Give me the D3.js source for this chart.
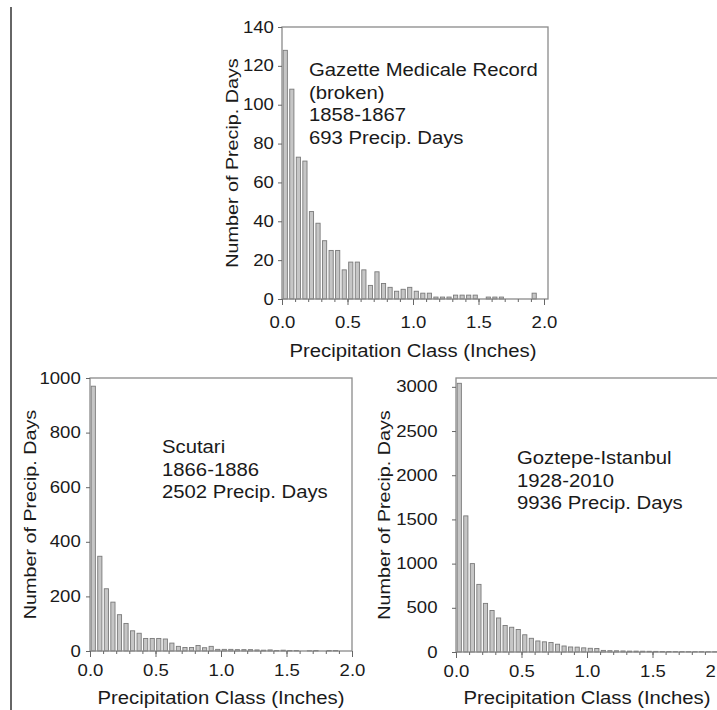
<!DOCTYPE html>
<html>
<head>
<meta charset="utf-8">
<script src="https://cdn.jsdelivr.net/npm/d3@7"></script>
<style>
  html, body { margin: 0; padding: 0; background: #fff; }
  svg { display: block; }
  text { font-family: "Liberation Sans", Arial, sans-serif; fill: #1a1a1a; }
</style>
</head>
<body>
<svg id="chart"></svg>
<script>
// precipitation classes (inches), 0.05 wide
const classStart = [0.00, 0.05, 0.10, 0.15, 0.20, 0.25, 0.30, 0.35, 0.40, 0.45,
                    0.50, 0.55, 0.60, 0.65, 0.70, 0.75, 0.80, 0.85, 0.90, 0.95,
                    1.00, 1.05, 1.10, 1.15, 1.20, 1.25, 1.30, 1.35, 1.40, 1.45,
                    1.50, 1.55, 1.60, 1.65, 1.70, 1.75, 1.80, 1.85, 1.90, 1.95];

const gazetteDays = [128, 108, 73, 71, 45, 39, 30, 25, 25, 15, 19, 19, 15, 7, 14, 8, 6, 4, 5, 6,
                     4, 3, 3, 1, 1, 1, 2, 2, 2, 2, 0, 1, 1, 1, 0, 0, 0, 0, 3, 0];
const scutariDays = [970, 347, 228, 179, 133, 101, 74, 65, 46, 46, 46, 44, 29, 17, 13, 13, 20, 12, 17, 6,
                     6, 6, 5, 5, 5, 4, 3, 4, 2, 3, 2, 2, 0, 1, 2, 0, 2, 2, 0, 0];
const goztepeDays = [3040, 1540, 1000, 765, 550, 470, 385, 300, 280, 255, 195, 155, 125, 115, 108, 88, 68, 57, 55, 47,
                     42, 40, 18, 15, 14, 12, 10, 10, 9, 8, 7, 6, 6, 5, 5, 4, 4, 4, 3, 3];

const gazetteNote = ["Gazette Medicale Record", "(broken)", "1858-1867", "693 Precip. Days"];
const scutariNote = ["Scutari", "1866-1886", "2502 Precip. Days"];
const goztepeNote = ["Goztepe-Istanbul", "1928-2010", "9936 Precip. Days"];

const gazetteTicks = [0, 20, 40, 60, 80, 100, 120, 140];
const scutariTicks = [0, 200, 400, 600, 800, 1000];
const goztepeTicks = [0, 500, 1000, 1500, 2000, 2500, 3000];

const xMajor = [0, 0.5, 1.0, 1.5, 2.0];
const xMinor = [0, 0.1, 0.2, 0.3, 0.4, 0.5, 0.6, 0.7, 0.8, 0.9, 1.0,
                1.1, 1.2, 1.3, 1.4, 1.5, 1.6, 1.7, 1.8, 1.9, 2.0];

const xTitle = "Precipitation Class (Inches)";
const yTitle = "Number of Precip. Days";

const width = 717, height = 710;
const stretch = 1.16;   // text in the picture is a bit wide

const svg = d3.select("#chart")
    .attr("width", width)
    .attr("height", height);

svg.append("rect").attr("width", width).attr("height", height).attr("fill", "#fff");

// thin rule down the left edge
svg.append("line")
    .attr("x1", 11).attr("x2", 11)
    .attr("y1", 7).attr("y2", height)
    .attr("stroke", "#333").attr("stroke-width", 1.5);

function stretchText(sel) {
    sel.attr("transform", function() {
        const t = d3.select(this).attr("transform") || "";
        return t + ` scale(${stretch},1)`;
    });
}

function drawPanel(p) {
    const g = svg.append("g");

    const x = d3.scaleLinear().domain([0, 2]).range([p.left, p.xEnd]);
    const y = d3.scaleLinear().domain([0, p.yMax]).range([p.bottom, p.top]);
    const band = d3.scaleBand()
        .domain(classStart)
        .range([p.left, p.xEnd])
        .paddingInner(0.36)
        .paddingOuter(0.18);

    // bars
    g.selectAll(".bar")
        .data(p.values)
        .join("rect")
        .attr("class", "bar")
        .attr("x", (d, i) => band(classStart[i]))
        .attr("y", d => y(d))
        .attr("width", band.bandwidth())
        .attr("height", d => p.bottom - y(d))
        .attr("fill", "#c6c6c6")
        .attr("stroke", "#7a7a7a")
        .attr("stroke-width", 0.9)
        .attr("display", d => d > 0 ? null : "none");

    // box
    g.append("rect")
        .attr("x", p.left).attr("y", p.top)
        .attr("width", p.right - p.left)
        .attr("height", p.bottom - p.top)
        .attr("fill", "none")
        .attr("stroke", "#8a8a8a")
        .attr("stroke-width", 1.3);

    // minor x ticks
    g.append("g")
        .attr("transform", `translate(0,${p.bottom})`)
        .call(d3.axisBottom(x).tickValues(xMinor).tickSize(3).tickFormat(""))
        .call(a => a.select(".domain").remove())
        .call(a => a.selectAll("line").attr("stroke", "#666"));

    // major x ticks and labels
    g.append("g")
        .attr("transform", `translate(0,${p.bottom})`)
        .call(d3.axisBottom(x).tickValues(xMajor).tickSize(6).tickPadding(p.xPad).tickFormat(d3.format(".1f")))
        .call(a => a.select(".domain").remove())
        .call(a => a.selectAll("line").attr("stroke", "#666"))
        .call(a => a.selectAll("text")
            .attr("font-size", "16px")
            .attr("fill", "#1a1a1a")
            .call(stretchText));

    // y axis
    g.append("g")
        .attr("transform", `translate(${p.left},0)`)
        .call(d3.axisLeft(y).tickValues(p.ticks).tickSize(4).tickPadding(p.yPad).tickFormat(d3.format("d")))
        .call(a => a.select(".domain").remove())
        .call(a => a.selectAll("line").attr("stroke", "#666"))
        .call(a => a.selectAll("text")
            .attr("font-size", "16px")
            .attr("fill", "#1a1a1a")
            .call(stretchText));

    // axis titles
    g.append("text")
        .attr("transform", `translate(${(p.left + p.xEnd) / 2},${p.xTitleY})`)
        .attr("text-anchor", "middle")
        .attr("font-size", "17.5px")
        .text(xTitle)
        .call(stretchText);

    g.append("text")
        .attr("transform", `translate(${p.yTitleX},${(p.top + p.bottom) / 2}) rotate(-90)`)
        .attr("text-anchor", "middle")
        .attr("font-size", "17px")
        .text(yTitle)
        .call(stretchText);

    // note
    g.append("g")
        .attr("transform", `translate(${p.noteX},${p.noteY})`)
        .selectAll("text")
        .data(p.note)
        .join("text")
        .attr("transform", (d, i) => `translate(0,${i * 22.6})`)
        .attr("font-size", "17.5px")
        .text(d => d)
        .call(stretchText);
}

drawPanel({
    values: gazetteDays, note: gazetteNote, ticks: gazetteTicks, yMax: 140,
    left: 282, xEnd: 544, right: 548, top: 27, bottom: 299,
    xPad: 12, yPad: 3, xTitleY: 357, yTitleX: 238,
    noteX: 309, noteY: 76
});

drawPanel({
    values: scutariDays, note: scutariNote, ticks: scutariTicks, yMax: 1000,
    left: 90, xEnd: 352, right: 352, top: 378, bottom: 651,
    xPad: 8, yPad: 4, xTitleY: 704, yTitleX: 36,
    noteX: 162, noteY: 453
});

drawPanel({
    values: goztepeDays, note: goztepeNote, ticks: goztepeTicks, yMax: 3100,
    left: 456, xEnd: 718, right: 718, top: 378, bottom: 652,
    xPad: 8, yPad: 12, xTitleY: 704, yTitleX: 390,
    noteX: 517, noteY: 464
});
</script>
</body>
</html>
